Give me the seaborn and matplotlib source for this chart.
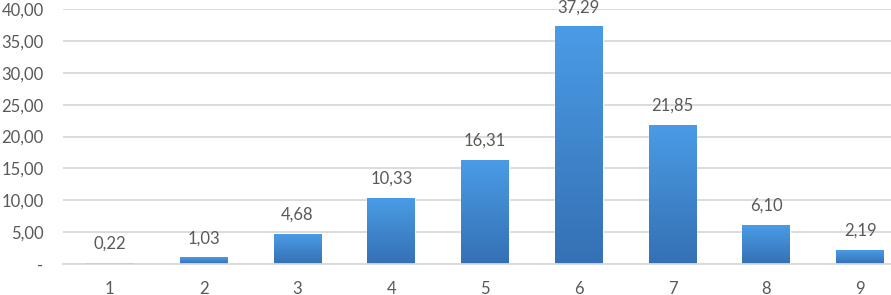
import numpy as np
import pandas as pd
import matplotlib
matplotlib.use("Agg")
import matplotlib.pyplot as plt
import matplotlib.colors as mcolors
import seaborn as sns

# ---------------- data ----------------
categories = ["1", "2", "3", "4", "5", "6", "7", "8", "9"]
values = [0.22, 1.03, 4.68, 10.33, 16.31, 37.29, 21.85, 6.10, 2.19]
y_ticks = [0, 5, 10, 15, 20, 25, 30, 35, 40]

TEXT = "#595959"
GRID = "#D9D9D9"


def fmt(v):
    if v == 0:
        return "-"
    return f"{v:.2f}".replace(".", ",")


def main():
    sns.set_theme(style="white")
    plt.rcParams["font.family"] = ["Lato", "DejaVu Sans"]

    df = pd.DataFrame({"cat": categories, "val": values})

    fig = plt.figure(figsize=(8.91, 2.95), dpi=100)
    # plot area runs past the right edge (cropped like the reference)
    ax = fig.add_axes([63 / 891, 31 / 295, 844 / 891, 255 / 295])

    sns.barplot(data=df, x="cat", y="val", color="#3F86D0", width=0.51,
                ax=ax, saturation=1)

    ax.set_ylim(0, 40)
    ax.set_yticks(y_ticks)
    ax.set_yticklabels([fmt(t) for t in y_ticks])
    ax.set_xlabel("")
    ax.set_ylabel("")

    # gradient fill on each bar
    cmap = mcolors.LinearSegmentedColormap.from_list("bar", ["#3570B4", "#4A9CE6"])
    grad = np.linspace(0, 1, 256).reshape(-1, 1)
    for p in ax.patches:
        x0, y0 = p.get_x(), p.get_y()
        w, h = p.get_width(), p.get_height()
        im = ax.imshow(grad, cmap=cmap, aspect="auto", origin="lower",
                       extent=[x0, x0 + w, y0, y0 + h], zorder=p.get_zorder() + 0.1)
        im.set_clip_path(p)
        ax.annotate(fmt(h), (x0 + w / 2, h), xytext=(0, 8),
                    textcoords="offset points", ha="center", va="bottom",
                    fontsize=12, color=TEXT)
    ax.set_xlim(-0.5, len(categories) - 0.5)
    ax.set_ylim(0, 40)

    ax.grid(axis="y", color=GRID, linewidth=1.3)
    ax.set_axisbelow(True)
    for s in ["top", "right", "left"]:
        ax.spines[s].set_visible(False)
    ax.spines["bottom"].set_color(GRID)
    ax.spines["bottom"].set_linewidth(1.3)
    ax.tick_params(axis="both", length=0, labelsize=12, labelcolor=TEXT)
    ax.tick_params(axis="y", pad=14)
    ax.tick_params(axis="x", pad=12)

    fig.savefig("out.png", dpi=100)


if __name__ == '__main__':
    main()
